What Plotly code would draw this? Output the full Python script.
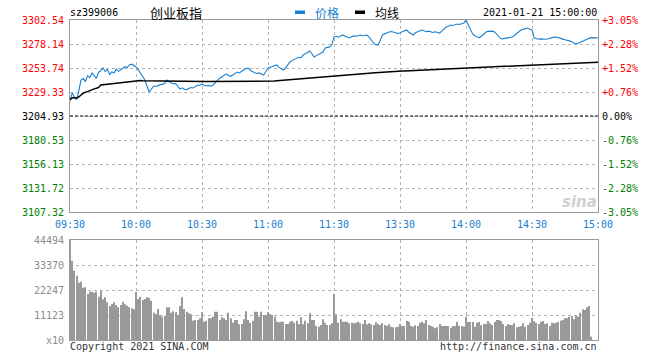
import plotly.graph_objects as go

# ---------------- data ----------------
prev_close = 3204.93
price_ticks = [3107.32, 3131.72, 3156.13, 3180.53, 3204.93, 3229.33, 3253.74, 3278.14, 3302.54]
pct_ticks = ["-3.05%", "-2.28%", "-1.52%", "-0.76%", "0.00%", "+0.76%", "+1.52%", "+2.28%", "+3.05%"]
time_ticks = [0, 30, 60, 90, 120, 150, 180, 210, 240]
time_labels = ["09:30", "10:00", "10:30", "11:00", "11:30", "13:30", "14:00", "14:30", "15:00"]
vol_ticks = [0, 11123, 22247, 33370, 44494]
vol_labels = ["x10", "11123", "22247", "33370", "44494"]

price = [
    3221.2, 3228.3, 3224.0, 3221.5, 3230.5, 3241.5, 3243.0, 3240.2, 3245.8, 3244.1,
    3248.7, 3246.0, 3243.2, 3249.5, 3251.0, 3253.7, 3250.2, 3252.4, 3247.1, 3249.8,
    3248.7, 3252.6, 3250.3, 3251.7, 3253.0, 3255.1, 3254.2, 3256.8, 3257.6, 3256.0,
    3254.8, 3252.1, 3248.0, 3245.3, 3241.5, 3236.2, 3229.3, 3232.1, 3235.4, 3235.0,
    3236.2, 3236.8, 3237.1, 3238.0, 3241.5, 3239.9, 3238.6, 3237.7, 3237.9, 3235.3,
    3232.4, 3233.6, 3232.1, 3231.8, 3233.0, 3233.9, 3233.4, 3235.0, 3236.4, 3236.0,
    3237.5, 3236.3, 3235.4, 3236.0, 3235.2, 3236.5, 3239.2, 3241.7, 3243.4, 3244.6,
    3246.6, 3247.8, 3246.1, 3245.3, 3246.6, 3248.5, 3249.6, 3248.7, 3250.8, 3252.0,
    3253.1, 3253.7, 3251.2, 3249.7, 3249.0, 3248.2, 3248.7, 3247.6, 3246.5, 3250.1,
    3253.7, 3254.6, 3255.2, 3256.0, 3256.8, 3254.4, 3253.0, 3251.7, 3253.8, 3257.1,
    3259.9, 3261.5, 3262.7, 3263.9, 3264.6, 3264.1, 3267.0, 3268.2, 3269.5, 3271.0,
    3268.0, 3265.0, 3266.3, 3267.4, 3268.8, 3270.0, 3274.1, 3274.4, 3275.2, 3277.1,
    3285.3, 3286.0, 3285.1, 3286.2, 3287.3, 3286.1, 3285.0, 3284.3, 3285.6, 3286.4,
    3286.0, 3287.0, 3287.3, 3286.5, 3287.0, 3287.3, 3285.2, 3282.0, 3279.2, 3277.5,
    3277.1, 3281.6, 3287.3, 3288.4, 3289.5, 3290.4, 3290.8, 3289.9, 3289.5, 3289.0,
    3289.3, 3290.7, 3291.5, 3292.4, 3290.1, 3288.6, 3287.3, 3289.5, 3291.0, 3291.7,
    3292.4, 3291.8, 3290.6, 3291.2, 3290.4, 3289.8, 3290.6, 3289.7, 3289.3, 3291.2,
    3293.6, 3295.4, 3296.2, 3297.5, 3297.0, 3297.9, 3298.4, 3298.0, 3298.9, 3299.5,
    3302.5, 3298.0, 3292.4, 3288.3, 3286.6, 3285.4, 3284.3, 3286.0, 3288.2, 3290.0,
    3291.0, 3291.4, 3291.2, 3290.4, 3288.3, 3285.6, 3283.2, 3283.6, 3284.0, 3284.6,
    3284.9, 3285.3, 3286.8, 3288.5, 3290.4, 3292.4, 3293.0, 3293.6, 3294.4, 3293.1,
    3292.4, 3284.3, 3283.5, 3283.0, 3283.3, 3283.0, 3282.9, 3283.2, 3284.0, 3284.6,
    3285.1, 3285.3, 3284.8, 3283.9, 3283.1, 3282.4, 3282.2, 3281.3, 3280.3, 3279.2,
    3278.2, 3278.9, 3280.0, 3281.4, 3282.5, 3283.2, 3283.9, 3284.6, 3284.5, 3284.3,
    3284.3,
]

avg_line = [
    3221.2, 3223.5, 3223.6, 3223.2, 3224.3, 3226.5, 3228.2, 3229.0, 3230.0, 3230.4,
    3231.6, 3232.5, 3233.1, 3234.0, 3236.5, 3236.9, 3237.2, 3237.4, 3237.6, 3237.8,
    3238.0, 3238.3, 3238.6, 3238.9, 3239.1, 3239.3, 3239.5, 3239.8, 3240.1, 3240.4,
    3240.8, 3240.8, 3240.9, 3240.8, 3240.8, 3240.8, 3240.7, 3240.7, 3240.7, 3240.7,
    3240.7, 3240.6, 3240.6, 3240.6, 3240.6, 3240.6, 3240.5, 3240.5, 3240.5, 3240.5,
    3240.4, 3240.4, 3240.4, 3240.3, 3240.3, 3240.3, 3240.2, 3240.2, 3240.2, 3240.1,
    3240.1, 3240.1, 3240.0, 3240.0, 3240.0, 3240.0, 3239.9, 3239.9, 3239.9, 3239.9,
    3239.9, 3239.9, 3239.9, 3239.9, 3239.9, 3239.9, 3239.9, 3239.9, 3239.9, 3239.9,
    3239.9, 3239.9, 3239.9, 3239.9, 3239.9, 3239.9, 3239.9, 3239.9, 3240.0, 3240.0,
    3240.1, 3240.2, 3240.4, 3240.5, 3240.7, 3240.9, 3241.0, 3241.2, 3241.4, 3241.5,
    3241.7, 3241.9, 3242.1, 3242.3, 3242.5, 3242.7, 3242.9, 3243.1, 3243.3, 3243.5,
    3243.7, 3243.9, 3244.1, 3244.3, 3244.5, 3244.6, 3244.8, 3245.1, 3245.4, 3245.7,
    3246.0, 3246.2, 3246.4, 3246.6, 3246.8, 3247.0, 3247.2, 3247.3, 3247.4, 3247.5,
    3247.6, 3247.7, 3247.8, 3247.9, 3248.1, 3248.3, 3248.5, 3248.6, 3248.8, 3248.9,
    3249.0, 3249.1, 3249.2, 3249.3, 3249.4, 3249.5, 3249.7, 3249.9, 3250.1, 3250.3,
    3250.5, 3250.7, 3250.8, 3250.9, 3251.0, 3251.1, 3251.2, 3251.3, 3251.4, 3251.5,
    3251.7, 3251.8, 3251.9, 3252.0, 3252.1, 3252.2, 3252.3, 3252.5, 3252.7, 3252.8,
    3252.9, 3253.0, 3253.1, 3253.2, 3253.3, 3253.4, 3253.5, 3253.6, 3253.7, 3253.8,
    3253.9, 3254.0, 3254.1, 3254.2, 3254.3, 3254.4, 3254.5, 3254.6, 3254.7, 3254.8,
    3254.9, 3255.0, 3255.1, 3255.2, 3255.3, 3255.4, 3255.5, 3255.6, 3255.7, 3255.8,
    3255.9, 3256.0, 3256.1, 3256.2, 3256.3, 3256.4, 3256.5, 3256.6, 3256.7, 3256.8,
    3256.9, 3257.0, 3257.1, 3257.2, 3257.3, 3257.4, 3257.5, 3257.5, 3257.6, 3257.7,
    3257.8, 3257.9, 3258.0, 3258.1, 3258.2, 3258.3, 3258.4, 3258.5, 3258.6, 3258.7,
    3258.8, 3258.9, 3259.0, 3259.1, 3259.2, 3259.3, 3259.4, 3259.5, 3259.5, 3259.6,
    3259.7,
]

volume = [
    44494,
    35300, 30850, 28620, 25500, 25950, 23290, 23430, 20470, 21500,
    21500, 21050, 21500, 19280, 21800, 18100, 18980, 16760, 15130, 16020,
    16760, 15570, 14540, 15570, 17060, 15870, 15280, 14540, 14090, 13650,
    21360, 18240, 19280, 17800, 18240, 18980, 18690, 17500, 12160, 11570,
    13790, 11120, 10380, 10830, 14540, 14540, 12160, 12750, 12310, 11120,
    15130, 18980, 13790, 12610, 11860, 11420, 8600, 8900, 8900, 9640,
    12310, 8160, 8600, 9640, 9640, 10380, 12610, 12610, 8900, 10080,
    9640, 8900, 12160, 9640, 7710, 8900, 8900, 6970, 7120, 9200,
    12750, 8900, 7710, 8600, 12610, 12610, 10380, 12610, 11120, 11120,
    12310, 11570, 11120, 10380, 8160, 7860, 8160, 8160, 7120, 7120,
    8160, 8450, 7710, 8600, 6970, 10080, 6970, 8600, 7410, 11860,
    8900, 8900, 6230, 5930, 6670, 9200, 7710, 6670, 6670, 7410,
    20470, 11420, 7710, 9200, 8160, 8160, 8160, 7410, 7710, 7410,
    7710, 8160, 7410, 7120, 8900, 6970, 7410, 6970, 6670, 7860,
    7120, 6670, 7410, 6670, 6230, 6970, 5930, 5640, 5640, 5930,
    7120, 6230, 6230, 8450, 8160, 6230, 5930, 6530, 6230, 7710,
    8160, 7410, 8900, 6670, 6230, 5930, 5190, 5640, 7120, 6230,
    6230, 6230, 6230, 5490, 6230, 6230, 8010, 6230, 6230, 5930,
    10380, 8010, 8010, 8010, 5930, 7710, 8010, 6530, 7120, 7120,
    8450, 7410, 6670, 8160, 8900, 8900, 8450, 7120, 6230, 7120,
    6670, 6670, 7410, 5640, 5930, 6230, 7410, 5930, 6670, 7710,
    9790, 8450, 7710, 7120, 8160, 8450, 7120, 7410, 6230, 7710,
    7410, 7710, 8010, 8600, 8900, 9640, 9640, 10380, 10680, 9200,
    11120, 10380, 12160, 13650, 13350, 14540, 15130, 1480,
    0, 0, 0,
]

minutes = list(range(len(price)))

# ---------------- styling helpers ----------------
W, H = 660, 360
def px(x):
    return x / W
def py(y):
    return 1 - y / H

MONO = "DejaVu Sans Mono"
CJK = "Noto Sans CJK SC"
RED = "#ff0000"
GREEN = "#008000"
BLUE = "#1a80d0"
GRID = "#b4b4b4"
FRAME = "#9a9a9a"

def color_for(v):
    if abs(v - prev_close) < 0.01:
        return "#000000"
    return RED if v > prev_close else GREEN

fig = go.Figure()

fig.add_trace(go.Scatter(x=minutes, y=price, mode="lines", line=dict(color=BLUE, width=1.1),
                         xaxis="x", yaxis="y", showlegend=False, hoverinfo="skip"))
fig.add_trace(go.Scatter(x=minutes, y=avg_line, mode="lines", line=dict(color="#000000", width=1.5),
                         xaxis="x", yaxis="y", showlegend=False, hoverinfo="skip"))
fig.add_trace(go.Bar(x=minutes, y=volume, marker=dict(color="#999999", line=dict(width=0)),
                     xaxis="x2", yaxis="y2", showlegend=False, hoverinfo="skip"))

xdom = [px(70), px(598)]
common = dict(showgrid=True, gridcolor=GRID, griddash="dot", gridwidth=1,
              showline=True, mirror=True, linecolor=FRAME, linewidth=1, zeroline=False,
              ticks="", showticklabels=False, automargin=False)
fig.update_layout(
    width=W, height=H,
    margin=dict(l=0, r=0, t=0, b=0, pad=0, autoexpand=False),
    paper_bgcolor="white", plot_bgcolor="white",
    bargap=0.58,
    xaxis=dict(domain=xdom, anchor="y", range=[0, 240], tickvals=time_ticks, **common),
    yaxis=dict(domain=[py(212), py(20)], anchor="x", range=[price_ticks[0], price_ticks[-1]],
               tickvals=price_ticks, **common),
    xaxis2=dict(domain=xdom, anchor="y2", range=[0, 240], tickvals=time_ticks, **common),
    yaxis2=dict(domain=[py(340), py(240)], anchor="x2", range=[0, vol_ticks[-1]],
                tickvals=vol_ticks, **common),
)

# previous-close dashed line
fig.add_shape(type="line", xref="x domain", yref="y", x0=0, x1=1, y0=prev_close, y1=prev_close,
              line=dict(color="#000000", width=1, dash="3px,2px"))

# legend marks
fig.add_shape(type="rect", xref="paper", yref="paper", x0=px(295), x1=px(305), y0=py(14), y1=py(10.5),
              fillcolor=BLUE, line=dict(width=0))
fig.add_shape(type="rect", xref="paper", yref="paper", x0=px(355), x1=px(365), y0=py(14), y1=py(10.5),
              fillcolor="#000000", line=dict(width=0))

def ann(text, x, y, xref="paper", yref="paper", xanchor="left", size=10, color="#000000",
        family=MONO):
    fig.add_annotation(text=text, x=x, y=y, xref=xref, yref=yref,
                       xanchor=xanchor, yanchor="middle", showarrow=False,
                       font=dict(family=family, size=size, color=color),
                       borderpad=0, xshift=0)

# axis labels placed with the axes' own scales
for v, t in zip(price_ticks, pct_ticks):
    ann(f"{v:.2f}", px(65), v, yref="y", xanchor="right", color=color_for(v))
    ann(t, px(601), v, yref="y", xanchor="left", color=color_for(v))
for m, t in zip(time_ticks, time_labels):
    ann(t, m, py(224), xref="x", xanchor="center", color=BLUE)
for v, t in zip(vol_ticks, vol_labels):
    ann(t, px(65), v, yref="y2", xanchor="right", color="#8c8c8c")

ann("sz399006", px(69), py(13))
ann("创业板指", px(149), py(13), size=13, family=CJK)
ann("价格", px(314), py(13), size=12, family=CJK, color=BLUE)
ann("均线", px(374), py(13), size=12, family=CJK)
ann("2021-01-21 15:00:00", px(598), py(13), xanchor="right")
ann("Copyright 2021 SINA.COM", px(69), py(346), color="#333333")
ann("http://finance.sina.com.cn", px(598), py(346), xanchor="right", color="#333333")
ann("<i><b>sina</b></i>", px(579), py(202), xanchor="center", size=15, color="#cfcfcf",
    family="DejaVu Sans")

fig.write_html("out.html")
